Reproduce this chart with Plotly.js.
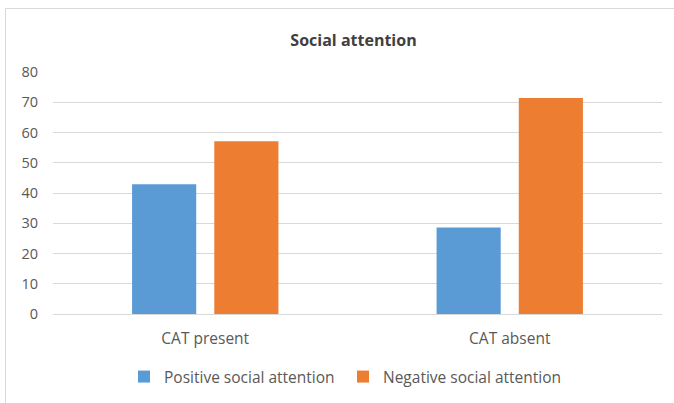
<!DOCTYPE html>
<html>
<head>
<meta charset="utf-8">
<script src="https://cdn.plot.ly/plotly-3.0.1.min.js"></script>
<style>html,body{margin:0;padding:0;background:#fff;}#chart{width:674px;height:403px;}</style>
</head>
<body>
<div id="chart"></div>
<script>
const categories = ["CAT present", "CAT absent"];
const seriesNames = ["Positive social attention", "Negative social attention"];
const positiveValues = [42.9, 28.6];
const negativeValues = [57.1, 71.4];
const yTicks = [0, 10, 20, 30, 40, 50, 60, 70, 80];

const font = "'Open Sans', 'Noto Sans', sans-serif";
const traces = [
  {type: "bar", name: seriesNames[0], x: categories, y: positiveValues,
   marker: {color: "#5b9bd5"}, hoverinfo: "x+y"},
  {type: "bar", name: seriesNames[1], x: categories, y: negativeValues,
   marker: {color: "#ed7d31"}, hoverinfo: "x+y"}
];
const pw = 674 - 53 - 12, ph = 403 - 72 - 89;
const layout = {
  width: 674, height: 403,
  margin: {l: 53, r: 12, t: 72, b: 89},
  paper_bgcolor: "#fff", plot_bgcolor: "#fff",
  barmode: "group", bargap: 0.46, bargroupgap: 0.22,
  title: {text: "<b>Social attention</b>", xref: "container", x: 353.5 / 674, xanchor: "center",
          y: 1 - 40/403, yanchor: "middle",
          font: {family: font, size: 16, color: "#404040"}},
  xaxis: {type: "category", showgrid: false, showline: true, linecolor: "#d9d9d9", linewidth: 1,
          automargin: false,
          ticks: "", tickfont: {family: font, size: 15.5, color: "#595959"}, ticklabelstandoff: 10},
  yaxis: {range: [0, 80], tickvals: yTicks, ticktext: yTicks.map(String), showgrid: true, gridcolor: "#d9d9d9",
          zeroline: false, showline: false, ticks: "", automargin: false,
          tickfont: {family: font, size: 14.5, color: "#595959"}, ticklabelstandoff: 14},
  legend: {orientation: "h", x: (124 - 53) / pw, xanchor: "left", xref: "paper",
           yref: "container", y: (403 - 377) / 403, yanchor: "middle",
           font: {family: font, size: 15.5, color: "#595959"}, traceorder: "normal", itemwidth: 30,
           entrywidth: 174, entrywidthmode: "pixels"},
  shapes: [{type: "rect", xref: "paper", yref: "paper",
            x0: (5.5 - 53) / pw, x1: (690 - 53) / pw, y0: (314 - 420) / ph, y1: (314 - 8.5) / ph,
            line: {color: "#d9d9d9", width: 1}, fillcolor: "rgba(0,0,0,0)", layer: "below"}],
  showlegend: true
};
Plotly.newPlot("chart", traces, layout, {displayModeBar: false, staticPlot: true});
</script>
</body>
</html>
